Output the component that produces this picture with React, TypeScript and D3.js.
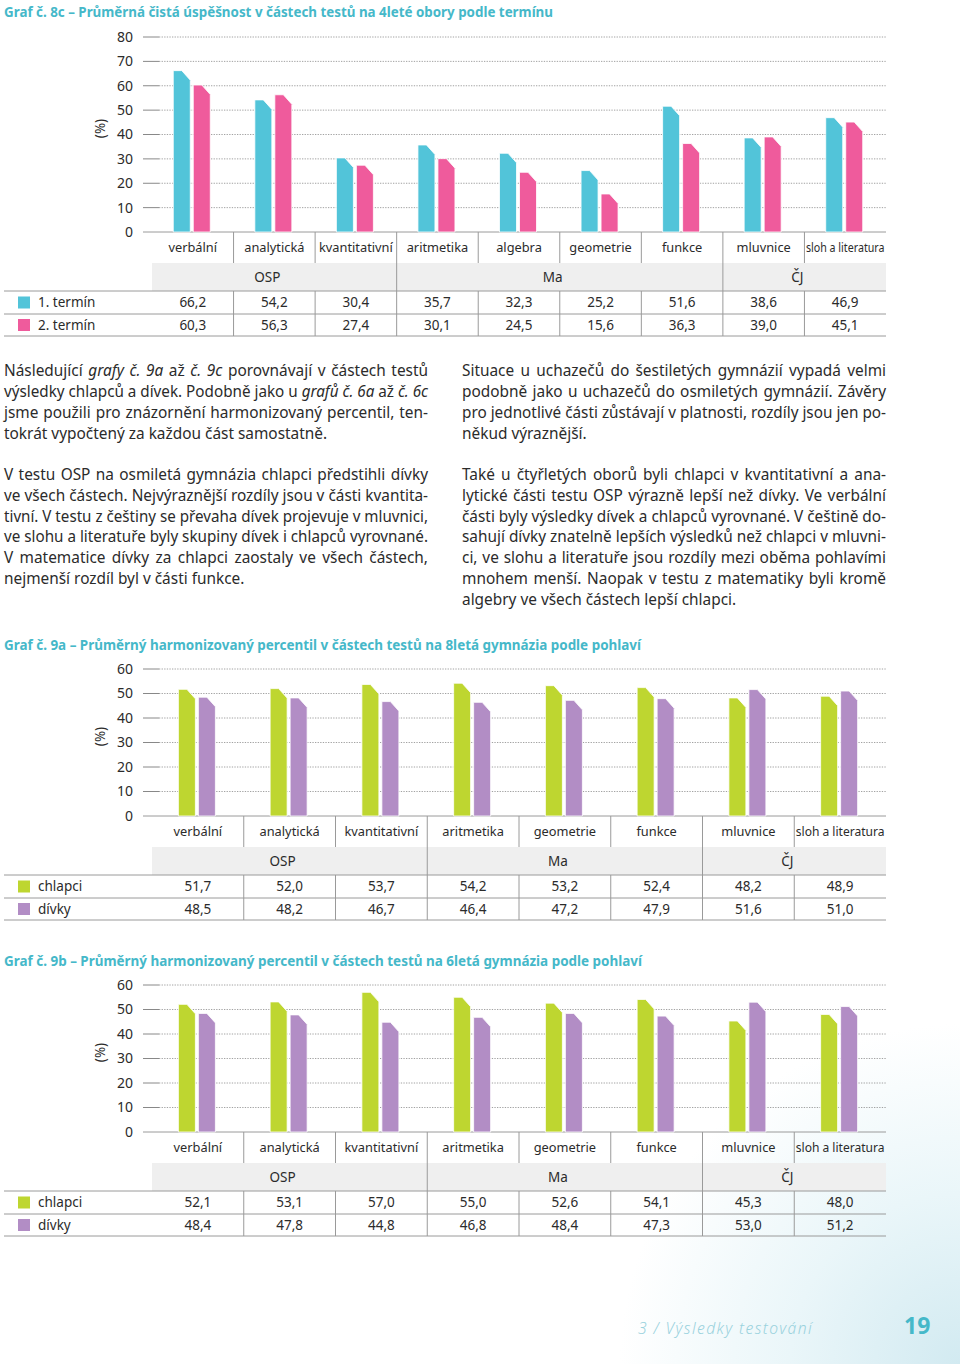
import React, { useLayoutEffect, useRef } from 'react';
import * as d3 from 'd3';

const FONT = "'Noto Sans', 'Open Sans', sans-serif";
const W = 960;
const H = 1364;

const CYAN = '#52c4d9';
const PINK = '#ef5b9c';
const GREEN = '#bed630';
const PURPLE = '#b28dc5';
const TEAL = '#45b8c9';
const TXT = '#2b2b2b';
const LINE = '#9a9a9a';

// ---- Chart 8c data ----
const title8c = 'Graf č. 8c – Průměrná čistá úspěšnost v částech testů na 4leté obory podle termínu';
const cats8c = ['verbální', 'analytická', 'kvantitativní', 'aritmetika', 'algebra', 'geometrie', 'funkce', 'mluvnice', 'sloh a literatura'];
const groups8c = [{ name: 'OSP', span: 3 }, { name: 'Ma', span: 4 }, { name: 'ČJ', span: 2 }];
const termin1 = [66.2, 54.2, 30.4, 35.7, 32.3, 25.2, 51.6, 38.6, 46.9];
const termin2 = [60.3, 56.3, 27.4, 30.1, 24.5, 15.6, 36.3, 39.0, 45.1];
const ticks8c = [0, 10, 20, 30, 40, 50, 60, 70, 80];

// ---- Chart 9a / 9b data ----
const title9a = 'Graf č. 9a – Průměrný harmonizovaný percentil v částech testů na 8letá gymnázia podle pohlaví';
const title9b = 'Graf č. 9b – Průměrný harmonizovaný percentil v částech testů na 6letá gymnázia podle pohlaví';
const cats9 = ['verbální', 'analytická', 'kvantitativní', 'aritmetika', 'geometrie', 'funkce', 'mluvnice', 'sloh a literatura'];
const groups9 = [{ name: 'OSP', span: 3 }, { name: 'Ma', span: 3 }, { name: 'ČJ', span: 2 }];
const chlapci9a = [51.7, 52.0, 53.7, 54.2, 53.2, 52.4, 48.2, 48.9];
const divky9a = [48.5, 48.2, 46.7, 46.4, 47.2, 47.9, 51.6, 51.0];
const chlapci9b = [52.1, 53.1, 57.0, 55.0, 52.6, 54.1, 45.3, 48.0];
const divky9b = [48.4, 47.8, 44.8, 46.8, 48.4, 47.3, 53.0, 51.2];
const ticks9 = [0, 10, 20, 30, 40, 50, 60];

// ---- body text ----
const leftText: (string | null)[] = [
  'Následující _grafy č. 9a_ až _č. 9c_ porovnávají v částech testů',
  'výsledky chlapců a dívek. Podobně jako u _grafů č. 6a_ až _č. 6c_',
  'jsme použili pro znázornění harmonizovaný percentil, ten-',
  '#tokrát vypočtený za každou část samostatně.',
  null,
  'V testu OSP na osmiletá gymnázia chlapci předstihli dívky',
  've všech částech. Nejvýraznější rozdíly jsou v části kvantita-',
  'tivní. V testu z češtiny se převaha dívek projevuje v mluvnici,',
  've slohu a literatuře byly skupiny dívek i chlapců vyrovnané.',
  'V matematice dívky za chlapci zaostaly ve všech částech,',
  '#nejmenší rozdíl byl v části funkce.',
];
const rightText: (string | null)[] = [
  'Situace u uchazečů do šestiletých gymnázií vypadá velmi',
  'podobně jako u uchazečů do osmiletých gymnázií. Závěry',
  'pro jednotlivé části zůstávají v platnosti, rozdíly jsou jen po-',
  '#někud výraznější.',
  null,
  'Také u čtyřletých oborů byli chlapci v kvantitativní a ana-',
  'lytické části testu OSP výrazně lepší než dívky. Ve verbální',
  'části byly výsledky dívek a chlapců vyrovnané. V češtině do-',
  'sahují dívky znatelně lepších výsledků než chlapci v mluvni-',
  'ci, ve slohu a literatuře jsou rozdíly mezi oběma pohlavími',
  'mnohem menší. Naopak v testu z matematiky byli kromě',
  '#algebry ve všech částech lepší chlapci.',
];

type Series = { label: string; color: string; values: number[] };
type ChartCfg = {
  title: string; titleW: number; titleY: number; top: number; base: number; max: number;
  ticks: number[]; cats: string[]; groups: { name: string; span: number }[]; series: Series[];
};

const charts: ChartCfg[] = [
  {
    title: title8c, titleW: 549, titleY: 12, top: 37, base: 232, max: 80, ticks: ticks8c,
    cats: cats8c, groups: groups8c,
    series: [
      { label: '1. termín', color: CYAN, values: termin1 },
      { label: '2. termín', color: PINK, values: termin2 },
    ],
  },
  {
    title: title9a, titleW: 637, titleY: 645, top: 669, base: 816, max: 60, ticks: ticks9,
    cats: cats9, groups: groups9,
    series: [
      { label: 'chlapci', color: GREEN, values: chlapci9a },
      { label: 'dívky', color: PURPLE, values: divky9a },
    ],
  },
  {
    title: title9b, titleW: 638, titleY: 961, top: 985, base: 1132, max: 60, ticks: ticks9,
    cats: cats9, groups: groups9,
    series: [
      { label: 'chlapci', color: GREEN, values: chlapci9b },
      { label: 'dívky', color: PURPLE, values: divky9b },
    ],
  },
];

const COL_L = 152;
const COL_R = 886;
const AXIS_L = 143;
const TABLE_L = 4;

const fmt = (v: number) => v.toFixed(1).replace('.', ',');

function barPath(x0: number, w: number, yTop: number, y0: number) {
  const cw = w / 2;
  const ch = Math.min(9.5, y0 - yTop);
  const p = d3.path();
  p.moveTo(x0, y0);
  p.lineTo(x0, yTop);
  p.lineTo(x0 + w - cw, yTop);
  p.lineTo(x0 + w, yTop + ch);
  p.lineTo(x0 + w, y0);
  p.closePath();
  return p.toString();
}

function Chart({ c }: { c: ChartCfg }) {
  const y = d3.scaleLinear().domain([0, c.max]).range([c.base, c.top]);
  const x = d3.scaleBand<string>().domain(c.cats).range([COL_L, COL_R]).paddingInner(0).paddingOuter(0);
  const bw = x.bandwidth();
  const inner = d3.scaleBand<string>().domain(c.series.map(s => s.label)).range([-19.5, 17.5]).paddingInner(0.15);

  const hdrTop = c.base, hdrBot = c.base + 31;
  const grpBot = c.base + 59;
  const r1Bot = c.base + 82;
  const r2Bot = c.base + 104;
  const rowCenters = [(grpBot + r1Bot) / 2, (r1Bot + r2Bot) / 2];

  let acc = 0;
  const groupCells = c.groups.map(g => {
    const x0 = COL_L + acc * bw;
    acc += g.span;
    const x1 = COL_L + acc * bw;
    return { ...g, x0, x1 };
  });

  return (
    <g>
      <text x={4} y={c.titleY} dy="0.35em" fill={TEAL} fontWeight={700} fontSize={14}
        data-w={c.titleW} data-mode="fit">{c.title}</text>

      <text transform={`translate(100,${(c.top + c.base) / 2 - 6}) rotate(-90)`} textAnchor="middle"
        dy="0.35em" fontSize={13.5} fill={TXT}>(%)</text>

      {c.ticks.map(t => (
        <g key={t}>
          <text x={133} y={y(t)} dy="0.35em" textAnchor="end" fontSize={14} fill={TXT}>{t}</text>
          {t === 0 ? (
            <line x1={AXIS_L} x2={COL_R} y1={y(t)} y2={y(t)} stroke={LINE} strokeWidth={1} />
          ) : (
            <>
              <line x1={AXIS_L} x2={159} y1={y(t)} y2={y(t)} stroke="#888" strokeWidth={1} />
              <line x1={159} x2={COL_R} y1={y(t)} y2={y(t)} stroke="#8a8a8a" strokeWidth={0.8} strokeDasharray="1.3 1.3" />
            </>
          )}
        </g>
      ))}

      {c.cats.map((cat, i) => {
        const cx = (x(cat) as number) + bw / 2;
        return c.series.map(s => (
          <path key={cat + s.label} d={barPath(cx + (inner(s.label) as number), inner.bandwidth(), y(s.values[i]), y(0))}
            fill={s.color} stroke="#fff" strokeWidth={0.8} />
        ));
      })}

      {c.cats.map((cat, i) => (
        <g key={cat}>
          <text x={(x(cat) as number) + bw / 2} y={c.base + 16} dy="0.35em" textAnchor="middle" fontSize={12.8} fill={TXT}
            data-w={bw - 3} data-mode="max">{cat}</text>
          {i > 0 && <line x1={x(cat)} x2={x(cat)} y1={hdrTop} y2={hdrBot} stroke={LINE} />}
        </g>
      ))}

      <rect x={COL_L} y={hdrBot} width={COL_R - COL_L} height={grpBot - hdrBot} fill="#efefef" />
      {groupCells.map((g, i) => (
        <g key={g.name}>
          <text x={(g.x0 + g.x1) / 2 - 7} y={(hdrBot + grpBot) / 2} dy="0.35em" textAnchor="middle" fontSize={13.5} fill={TXT}>{g.name}</text>
          {i > 0 && <line x1={g.x0} x2={g.x0} y1={hdrBot} y2={grpBot} stroke={LINE} />}
        </g>
      ))}

      {[grpBot, r1Bot, r2Bot].map((yy, i) => (
        <line key={i} x1={TABLE_L} x2={COL_R} y1={yy} y2={yy} stroke={LINE} strokeWidth={1} />
      ))}
      {c.cats.map((cat, i) => i > 0 && (
        <line key={'v' + cat} x1={x(cat)} x2={x(cat)} y1={grpBot} y2={r2Bot} stroke={LINE} />
      ))}
      {c.series.map((s, si) => (
        <g key={s.label}>
          <rect x={18} y={rowCenters[si] - 6} width={12} height={12} fill={s.color} />
          <text x={38} y={rowCenters[si]} dy="0.35em" fontSize={13.5} fill={TXT}>{s.label}</text>
          {s.values.map((v, i) => (
            <text key={i} x={(x(c.cats[i]) as number) + bw / 2} y={rowCenters[si]} dy="0.35em" textAnchor="middle"
              fontSize={13.5} fill={TXT}>{fmt(v)}</text>
          ))}
        </g>
      ))}
    </g>
  );
}

function Para({ lines, x0, x1 }: { lines: (string | null)[]; x0: number; x1: number }) {
  return (
    <g>
      {lines.map((ln, i) => {
        if (ln === null) return null;
        const last = ln.startsWith('#');
        const str = last ? ln.slice(1) : ln;
        const parts = str.split('_');
        return (
          <text key={i} x={x0} y={371 + i * 20.75} dy="0.35em" fontSize={15.4} fill={TXT}
            data-w={last ? undefined : x1 - x0} data-mode={last ? undefined : 'just'}>
            {parts.map((p, k) => (
              <tspan key={k} fontStyle={k % 2 === 1 ? 'italic' : 'normal'}>{p}</tspan>
            ))}
          </text>
        );
      })}
    </g>
  );
}

export default function App() {
  const ref = useRef<SVGSVGElement>(null);

  useLayoutEffect(() => {
    const run = () => {
      if (!ref.current) return;
      d3.select(ref.current).selectAll<SVGTextElement, unknown>('text[data-mode]').each(function () {
        const el = this as SVGTextElement;
        const target = +(el.getAttribute('data-w') || 0);
        const mode = el.getAttribute('data-mode');
        el.style.wordSpacing = '';
        el.removeAttribute('textLength');
        el.removeAttribute('lengthAdjust');
        const w = el.getComputedTextLength();
        if (mode === 'just') {
          const n = ((el.textContent || '').match(/ /g) || []).length;
          if (w <= target && n > 0) {
            el.style.wordSpacing = `${(target - w) / n}px`;
          } else {
            el.setAttribute('textLength', String(target));
            el.setAttribute('lengthAdjust', 'spacingAndGlyphs');
          }
        } else if (mode === 'max') {
          if (w > target) {
            el.setAttribute('textLength', String(target));
            el.setAttribute('lengthAdjust', 'spacingAndGlyphs');
          }
        } else if (mode === 'fit') {
          el.setAttribute('textLength', String(target));
          el.setAttribute('lengthAdjust', w > target ? 'spacingAndGlyphs' : 'spacing');
        }
      });
    };
    run();
    if ((document as any).fonts && (document as any).fonts.ready) {
      (document as any).fonts.ready.then(run);
    }
  }, []);

  return (
    <svg ref={ref} width={W} height={H} viewBox={`0 0 ${W} ${H}`}
      style={{ position: 'absolute', left: 0, top: 0, background: '#fff' }}
      fontFamily={FONT}>
      <defs>
        <radialGradient id="foot" cx={960} cy={1364} r={340} gradientUnits="userSpaceOnUse">
          <stop offset="0" stopColor="#d2eaf1" />
          <stop offset="0.5" stopColor="#eaf6f9" />
          <stop offset="1" stopColor="#ffffff" />
        </radialGradient>
      </defs>
      <rect x={0} y={0} width={W} height={H} fill="url(#foot)" />

      {charts.map((c, i) => <Chart key={i} c={c} />)}

      <Para lines={leftText} x0={4} x1={428} />
      <Para lines={rightText} x0={462} x1={886} />

      <text x={638} y={1328} dy="0.35em" fontSize={16.5} fontStyle="italic" fill="#9ad2dd" letterSpacing={1.5}
        fontWeight={300} data-w={175} data-mode="fit">3 / Výsledky testování</text>
      <text x={904} y={1326} dy="0.35em" fontSize={23} fontWeight={700} fill={TEAL}>19</text>
    </svg>
  );
}
